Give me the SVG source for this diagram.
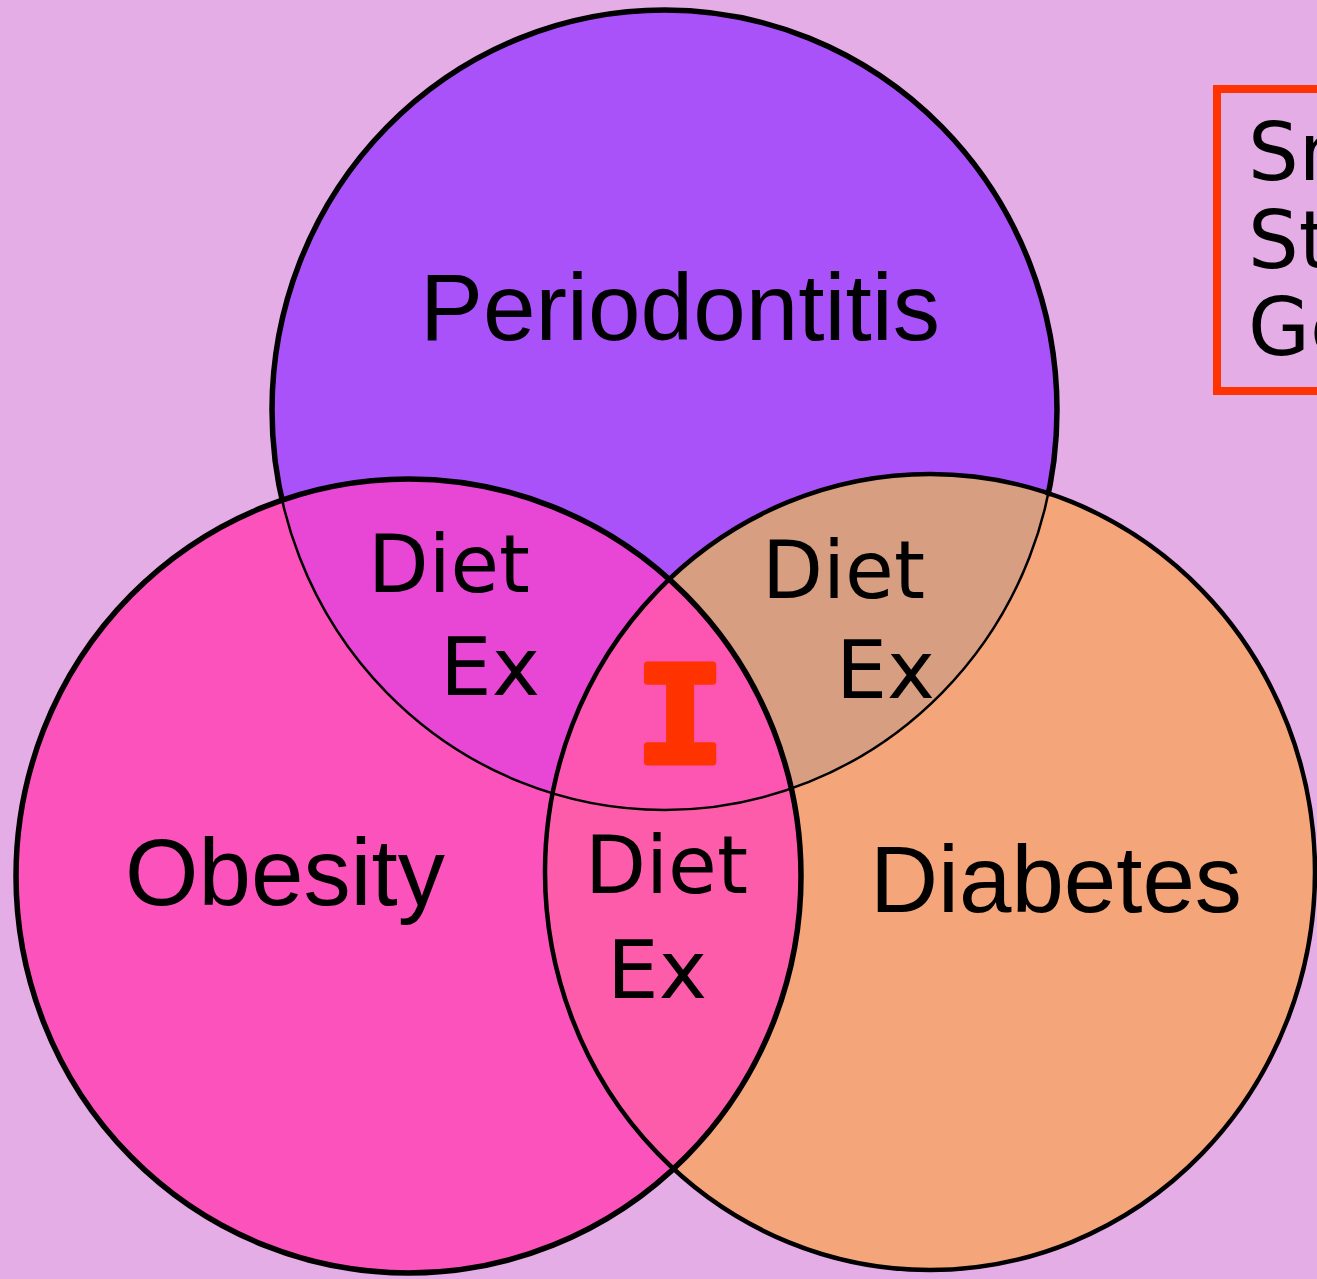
<svg xmlns="http://www.w3.org/2000/svg" width="1317" height="1279" viewBox="0 0 1317 1279">
<style>
.lbl{font-family:"Liberation Sans",Arial,sans-serif;font-size:94px;fill:#000}
.hand{font-family:"Comic Sans MS","DejaVu Sans",sans-serif;font-size:80px;fill:#000}
.outline{fill:none;stroke:#000}
</style>
<defs>
<clipPath id="cP"><ellipse cx="664.5" cy="410" rx="392.5" ry="400"/></clipPath>
<clipPath id="cL"><ellipse cx="408.5" cy="876" rx="392.5" ry="397"/></clipPath>
<mask id="mOut" maskUnits="userSpaceOnUse" x="0" y="0" width="1317" height="1279">
<rect width="1317" height="1279" fill="#fff"/>
<ellipse cx="408.5" cy="876" rx="390" ry="394.5" fill="#000"/>
<ellipse cx="930" cy="872" rx="382.5" ry="395.5" fill="#000"/>
</mask>
</defs>
<rect width="1317" height="1279" fill="#E4ADE6"/>
<g id="periodontitis">
<ellipse cx="664.5" cy="410" rx="392.5" ry="400" fill="#AA52FA"/>
</g>
<g id="obesity">
<ellipse cx="408.5" cy="876" rx="392.5" ry="397" fill="#FC52BB"/>
</g>
<g id="diabetes">
<ellipse cx="930" cy="872" rx="385" ry="398" fill="#F4A67A"/>
</g>
<g id="overlaps">
<ellipse cx="408.5" cy="876" rx="392.5" ry="397" fill="#E846D4" clip-path="url(#cP)"/>
<ellipse cx="930" cy="872" rx="385" ry="398" fill="#D89E82" clip-path="url(#cP)"/>
<ellipse cx="930" cy="872" rx="385" ry="398" fill="#FC5CAA" clip-path="url(#cL)"/>
<g clip-path="url(#cP)"><ellipse cx="930" cy="872" rx="385" ry="398" fill="#FD56B2" clip-path="url(#cL)"/></g>
</g>
<g id="outlines">
<ellipse class="outline" cx="664.5" cy="410" rx="392.5" ry="400" stroke-width="2.5"/>
<ellipse class="outline" cx="664.5" cy="410" rx="392.5" ry="400" stroke-width="5.5" mask="url(#mOut)"/>
<ellipse class="outline" cx="408.5" cy="876" rx="392.5" ry="397" stroke-width="5.5"/>
<ellipse class="outline" cx="930" cy="872" rx="385" ry="398" stroke-width="4.5"/>
</g>
<g id="labels">
<text class="lbl" x="420" y="340" textLength="520" lengthAdjust="spacingAndGlyphs">Periodontitis</text>
<text class="lbl" x="125" y="905" textLength="320" lengthAdjust="spacingAndGlyphs">Obesity</text>
<text class="lbl" x="870" y="912" textLength="372" lengthAdjust="spacingAndGlyphs">Diabetes</text>
</g>
<g id="factors">
<text class="hand" x="368" y="592" textLength="162" lengthAdjust="spacingAndGlyphs">Diet</text>
<text class="hand" x="440" y="695" textLength="100" lengthAdjust="spacingAndGlyphs">Ex</text>
<text class="hand" x="762" y="598" textLength="163" lengthAdjust="spacingAndGlyphs">Diet</text>
<text class="hand" x="836" y="698" textLength="99" lengthAdjust="spacingAndGlyphs">Ex</text>
<text class="hand" x="585" y="893" textLength="163" lengthAdjust="spacingAndGlyphs">Diet</text>
<text class="hand" x="607" y="998" textLength="100" lengthAdjust="spacingAndGlyphs">Ex</text>
<text x="680" y="762" text-anchor="middle" style="font-family:'Liberation Mono',monospace;font-weight:bold;font-size:146px;fill:#FF3300;stroke:#FF3300;stroke-width:7;stroke-linejoin:round">I</text>
</g>
<g id="legend">
<rect x="1217" y="89" width="120" height="302" fill="none" stroke="#FF3300" stroke-width="8"/>
<text class="hand" x="1248" y="180">Sm</text>
<text class="hand" x="1248" y="268">St</text>
<text class="hand" x="1248" y="355">Ge</text>
</g>
</svg>
